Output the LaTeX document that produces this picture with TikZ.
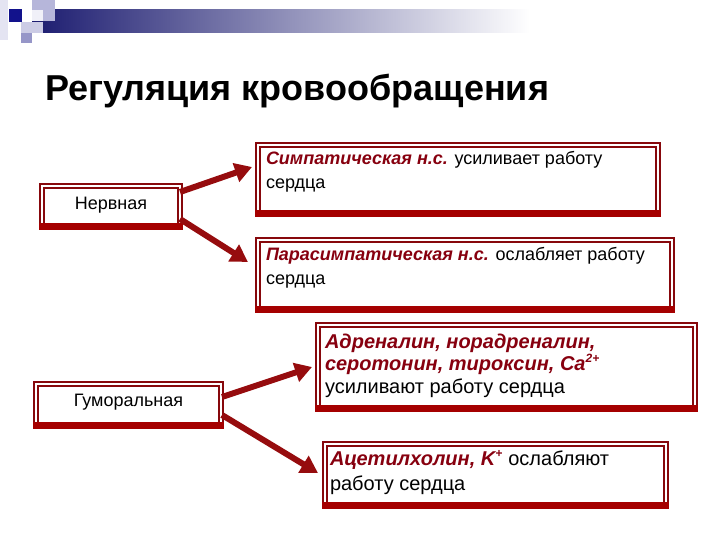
\documentclass[tikz,border=0pt]{standalone}
\usepackage{fontspec}
\setmainfont{Liberation Sans}
\usetikzlibrary{calc,arrows.meta}
\definecolor{fr}{RGB}{135,8,12}
\definecolor{band}{RGB}{165,0,0}
\definecolor{tred}{RGB}{135,0,15}
\definecolor{arrc}{RGB}{150,12,14}
\definecolor{navy}{RGB}{28,28,112}
\definecolor{dsq}{RGB}{18,18,140}
\definecolor{lav}{RGB}{182,182,218}
\definecolor{lav2}{RGB}{150,150,200}
\definecolor{lav3}{RGB}{228,228,242}
\tikzset{
  framebox/.style={draw=fr, line width=2pt, double=white, double distance=2pt, fill=white, inner sep=0pt, outer sep=0pt},
  txt/.style={inner sep=0pt, outer sep=0pt, align=left, anchor=base west},
  arr/.style={draw=arrc, line width=6pt, -{Triangle[length=17pt,width=19pt]}},
}
\newcommand{\rb}[1]{\textcolor{tred}{\bfseries\itshape #1}}
\begin{document}
\begin{tikzpicture}[x=1pt,y=-1pt]
\useasboundingbox (0,0) rectangle (720,540);
% decoration
\fill[lav3] (0,0) rectangle (8,40);
\shade[left color=navy, right color=white] (32,10) rectangle (530,33);
\fill[lav] (32,0) rectangle (55,21);
\fill[white!80!lav] (32,10) rectangle (43,21);
\fill[dsq] (9,9) rectangle (22,22);
\fill[lav2] (21,22) rectangle (32,43);
\fill[lav!70!white] (21,22) rectangle (43,33);
% title
\node[txt, font=\fontsize{36}{40}\selectfont\bfseries] (title) at (45,101) {Регуляция кровообращения};
% boxes
\node[framebox, minimum width=138pt, minimum height=41pt] (nerv) at (111,206.5) {};
\node[framebox, minimum width=400pt, minimum height=69pt] (sym) at (458,179.5) {};
\node[framebox, minimum width=414pt, minimum height=70pt] (para) at (465,275) {};
\node[framebox, minimum width=185pt, minimum height=42pt] (hum) at (128.5,405) {};
\node[framebox, minimum width=377pt, minimum height=84pt] (adr) at (506.5,367) {};
\node[framebox, minimum width=341pt, minimum height=62pt] (ace) at (495.5,475) {};
\foreach \b in {nerv,sym,para,hum,adr,ace}{
  \fill[band] ($(\b.south west)+(-3,-4)$) rectangle ($(\b.south east)+(3,3)$);
}
% texts
\node[inner sep=0pt, anchor=base, font=\fontsize{18}{20}\selectfont] (tnerv) at ($(nerv.center)+(0,3)$) {Нервная};
\node[inner sep=0pt, anchor=base, font=\fontsize{18}{20}\selectfont] (thum) at ($(hum.center)+(0,1.5)$) {Гуморальная};
\node[txt, font=\fontsize{18}{24}\selectfont] (tsym) at (266,189) {\rb{Симпатическая н.с.} усиливает работу\\сердца};
\node[txt, font=\fontsize{18}{24}\selectfont] (tpara) at (266,284.5) {\rb{Парасимпатическая н.с.} ослабляет работу\\сердца};
\node[txt, font=\fontsize{20}{22.5}\selectfont] (tadr) at (325,393) {\rb{Адреналин, норадреналин,}\\\rb{серотонин, тироксин, Ca\textsuperscript{\fontsize{12}{12}\selectfont 2+}}\\усиливают работу сердца};
\node[txt, font=\fontsize{20}{25}\selectfont] (tace) at (330,490) {\rb{Ацетилхолин, K\textsuperscript{\fontsize{12}{12}\selectfont +}} ослабляют\\работу сердца};
% arrows
\draw[arr] ($(nerv.east)+(0,-14.5)$) -- ($(sym.west)+(-6,-12.5)$);
\draw[arr] ($(nerv.east)+(0,12.5)$) -- ($(para.west)+(-10,-13)$);
\draw[arr] ($(hum.east)+(1,-8)$) -- ($(adr.west)+(-6,0)$);
\draw[arr] ($(hum.east)+(1,10)$) -- ($(ace.west)+(-7,-2)$);
\end{tikzpicture}
\end{document}
